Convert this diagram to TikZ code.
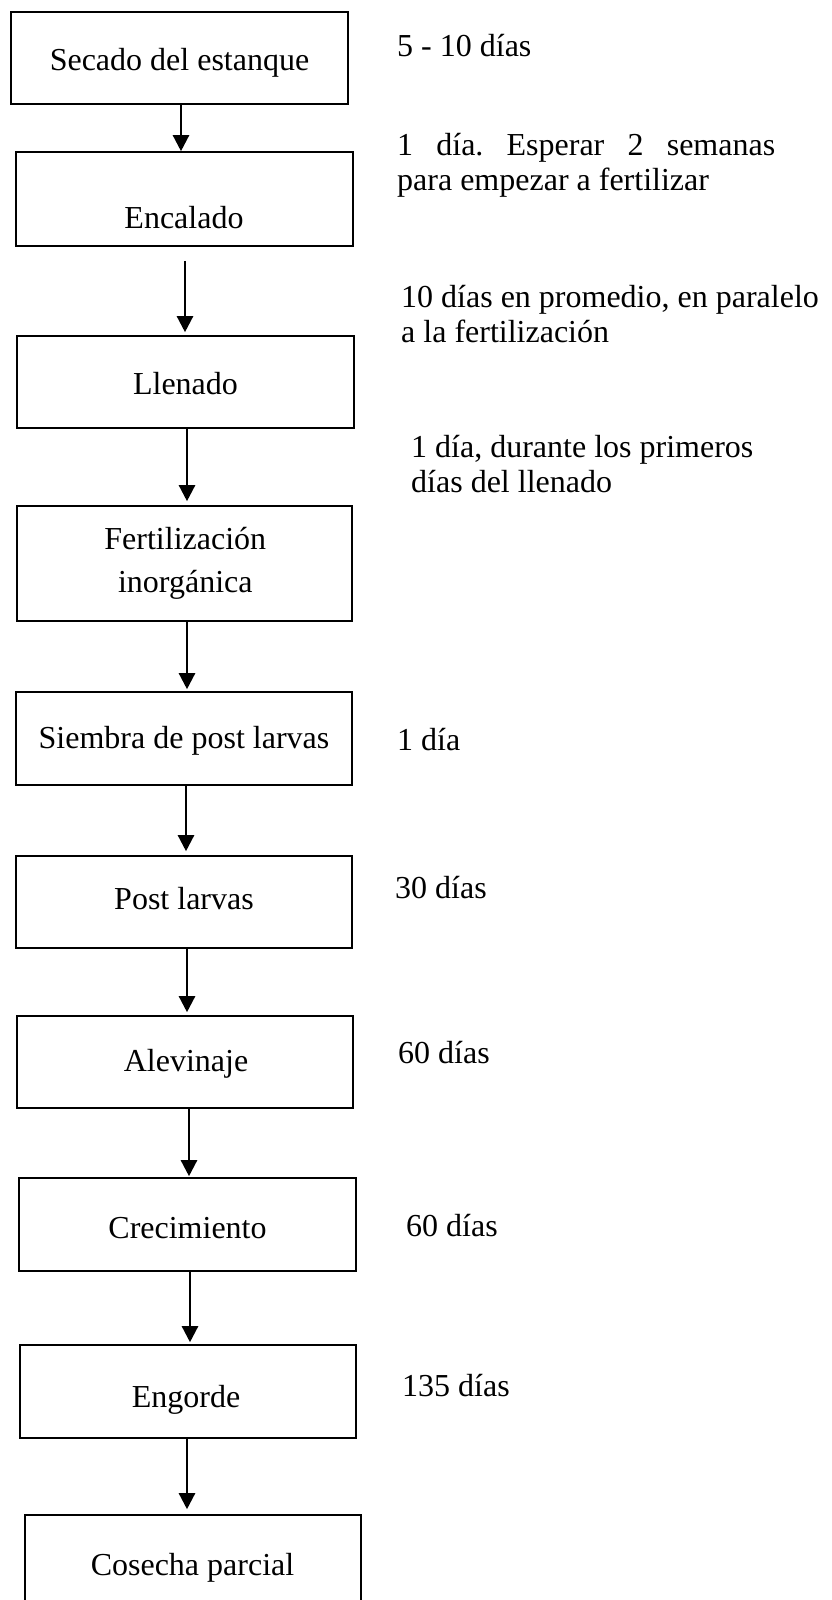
\documentclass[tikz,border=0pt]{standalone}
\usepackage{fontspec}
\setmainfont{Liberation Serif}
\usetikzlibrary{arrows.meta}
\frenchspacing
\begin{document}
\begin{tikzpicture}[x=1pt,y=-1pt,
  box/.style={draw,line width=1.6pt,inner sep=0pt,rectangle},
  lab/.style={inner sep=0pt,anchor=base,font=\fontsize{32}{35}\selectfont},
  side/.style={inner sep=0pt,anchor=base west,font=\fontsize{32}{35}\selectfont},
  arr/.style={line width=2.4pt,-{Triangle[length=16pt,width=16pt]}}]
\useasboundingbox (0,0) rectangle (832,1600);
\fill[white] (0,0) rectangle (832,1600);
% boxes
\node[box,minimum width=337pt,minimum height=92pt] (b1) at (179.5,58) {};
\node[box,minimum width=337pt,minimum height=94pt] (b2) at (184.5,199) {};
\node[box,minimum width=337pt,minimum height=92pt] (b3) at (185.5,382) {};
\node[box,minimum width=335pt,minimum height=115pt] (b4) at (184.5,563.5) {};
\node[box,minimum width=336pt,minimum height=93pt] (b5) at (184,738.5) {};
\node[box,minimum width=336pt,minimum height=92pt] (b6) at (184,902) {};
\node[box,minimum width=336pt,minimum height=92pt] (b7) at (185,1062) {};
\node[box,minimum width=337pt,minimum height=93pt] (b8) at (187.5,1224.5) {};
\node[box,minimum width=336pt,minimum height=93pt] (b9) at (188,1391.5) {};
\node[box,minimum width=336pt,minimum height=105pt] (b10) at (193,1567.5) {};
% box texts
\node[lab] (l1) at (179.5,71) {Secado del estanque};
\node[lab] (l2) at (184,228) {Encalado};
\node[lab] (l3) at (185.5,394) {Llenado};
\node[lab] (l4a) at (185.3,549) {Fertilización};
\node[lab] (l4b) at (185.3,592) {inorgánica};
\node[lab] (l5) at (184,748) {Siembra de post larvas};
\node[lab] (l6) at (184,909) {Post larvas};
\node[lab] (l7) at (186,1071) {Alevinaje};
\node[lab] (l8) at (187.5,1238) {Crecimiento};
\node[lab] (l9) at (186,1407) {Engorde};
\node[lab] (l10) at (192.5,1575) {Cosecha parcial};
% side texts
\node[side] (t1) at (397,57) {5 - 10 días};
\node[side] (t2a) at (397,155) {\makebox[378pt][s]{1 día. Esperar 2 semanas}};
\node[side] (t2b) at (397,190) {para empezar a fertilizar};
\node[side] (t3a) at (401,307) {10 días en promedio, en paralelo};
\node[side] (t3b) at (401,342) {a la fertilización};
\node[side] (t4a) at (411,457) {1 día, durante los primeros};
\node[side] (t4b) at (411,492) {días del llenado};
\node[side] (t5) at (397,750) {1 día};
\node[side] (t6) at (395,898) {30 días};
\node[side] (t7) at (398,1063) {60 días};
\node[side] (t8) at (406,1236) {60 días};
\node[side] (t9) at (402,1396) {135 días};
% arrow columns
\coordinate (x1) at (181,0);
\coordinate (x2) at (185,0);
\coordinate (x3) at (187,0);
\coordinate (x4) at (187,0);
\coordinate (x5) at (186,0);
\coordinate (x6) at (187,0);
\coordinate (x7) at (189,0);
\coordinate (x8) at (190,0);
\coordinate (x9) at (187,0);
% arrows
\draw[arr] (b1.south -| x1) -- (b2.north -| x1);
\draw[arr,shorten <=14pt,shorten >=3pt] (b2.south -| x2) -- (b3.north -| x2);
\draw[arr,shorten >=4pt] (b3.south -| x3) -- (b4.north -| x3);
\draw[arr,shorten >=2pt] (b4.south -| x4) -- (b5.north -| x4);
\draw[arr,shorten >=4pt] (b5.south -| x5) -- (b6.north -| x5);
\draw[arr,shorten >=3pt] (b6.south -| x6) -- (b7.north -| x6);
\draw[arr,shorten >=1pt] (b7.south -| x7) -- (b8.north -| x7);
\draw[arr,shorten >=2pt] (b8.south -| x8) -- (b9.north -| x8);
\draw[arr,shorten >=5pt] (b9.south -| x9) -- (b10.north -| x9);
\end{tikzpicture}
\end{document}
